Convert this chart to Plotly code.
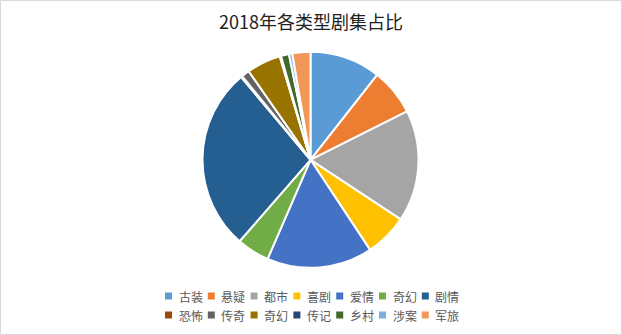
import plotly.graph_objects as go

W, H = 622, 335

title_text = "2018年各类型剧集占比"
labels = ["古装", "悬疑", "都市", "喜剧", "爱情", "奇幻", "剧情",
          "恐怖", "传奇", "奇幻", "传记", "乡村", "涉案", "军旅"]
values = [10.6, 7.0, 16.7, 6.4, 15.8, 4.9, 27.5,
          0.2, 1.2, 5.1, 0.2, 1.2, 0.5, 2.7]
colors = ["#5B9BD5", "#ED7D31", "#A5A5A5", "#FFC000", "#4472C4", "#70AD47", "#255E91",
          "#9E480E", "#636363", "#997300", "#264478", "#43682B", "#7CAFDD", "#F1975A"]

# unique ids so duplicate label "奇幻" isn't merged
uniq = [lab + "\u200b" * i for i, lab in enumerate(labels)]

font_family = "Noto Sans CJK SC, Noto Sans, sans-serif"

# pie placement (pixels)
cx, cy, r = 310.5, 159.8, 108

fig = go.Figure(go.Pie(
    labels=uniq,
    values=values,
    marker=dict(colors=colors, line=dict(color="white", width=2)),
    sort=False,
    direction="clockwise",
    rotation=0,
    textinfo="none",
    hoverinfo="label+percent",
    showlegend=False,
    domain=dict(x=[(cx - r) / W, (cx + r) / W], y=[1 - (cy + r) / H, 1 - (cy - r) / H]),
))

shapes = []
annotations = []

# chart border
shapes.append(dict(type="rect", xref="paper", yref="paper",
                   x0=0.5 / W, x1=1 - 0.5 / W, y0=0.5 / H, y1=1 - 0.5 / H,
                   line=dict(color="#D9D9D9", width=1), fillcolor="rgba(0,0,0,0)"))

# title
annotations.append(dict(text=title_text, xref="paper", yref="paper",
                        x=311 / W, y=1 - 21 / H, xanchor="center", yanchor="middle",
                        showarrow=False, font=dict(family=font_family, size=18, color="#222222")))

# manual legend, 7 per row
per_row = 7
x_start, dx = 168.5, 42.8
row_y = [296, 315]
ms = 3.5
for i, lab in enumerate(labels):
    row, col = divmod(i, per_row)
    mx = x_start + col * dx
    my = row_y[row]
    shapes.append(dict(type="rect", xref="paper", yref="paper",
                       x0=(mx - ms) / W, x1=(mx + ms) / W,
                       y0=1 - (my + ms) / H, y1=1 - (my - ms) / H,
                       line=dict(width=0), fillcolor=colors[i]))
    annotations.append(dict(text=lab, xref="paper", yref="paper",
                            x=(mx + 8) / W, y=1 - my / H, xanchor="left", yanchor="middle",
                            showarrow=False, font=dict(family=font_family, size=12, color="#595959")))

fig.update_layout(
    width=W, height=H,
    margin=dict(l=0, r=0, t=0, b=0),
    paper_bgcolor="white",
    plot_bgcolor="white",
    shapes=shapes,
    annotations=annotations,
)

fig.write_html("out.html")
